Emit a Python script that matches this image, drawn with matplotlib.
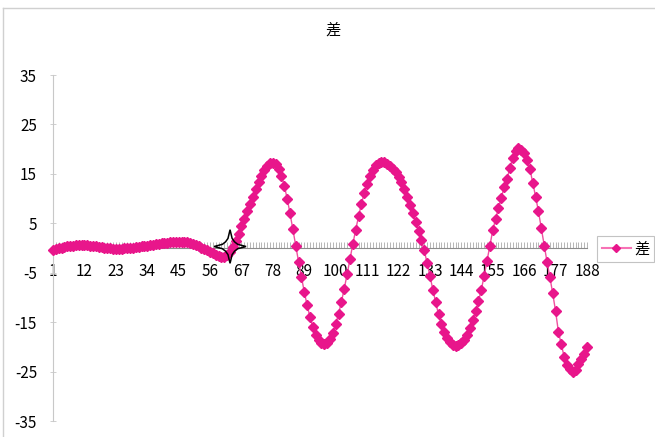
import matplotlib
matplotlib.use('Agg')
import matplotlib.pyplot as plt
from matplotlib.path import Path
from matplotlib.patches import PathPatch
from matplotlib.lines import Line2D

plt.rcParams['font.family'] = ['Noto Sans CJK JP', 'DejaVu Sans']

# difference series, one value per category 1..188
diff = [
    -0.4, -0.2, 0.0, 0.1, 0.3, 0.4, 0.5, 0.5, 0.6, 0.6,
    0.6, 0.6, 0.6, 0.5, 0.5, 0.4, 0.3, 0.2, 0.1, 0.0,
    -0.1, -0.2, -0.2, -0.2, -0.2, -0.1, -0.1, 0.0, 0.1, 0.2,
    0.3, 0.4, 0.5, 0.5, 0.6, 0.7, 0.8, 0.9, 1.0, 1.0,
    1.1, 1.2, 1.2, 1.3, 1.3, 1.3, 1.2, 1.2, 1.1, 0.9,
    0.7, 0.4, 0.1, -0.2, -0.5, -0.8, -1.1, -1.4, -1.6, -1.8,
    -1.8, -1.5, -0.8, 0.2, 1.5, 2.9, 4.4, 5.9, 7.4, 8.9,
    10.4, 11.9, 13.3, 14.6, 15.7, 16.6, 17.1, 17.2, 16.9, 16.0,
    14.6, 12.6, 10.0, 7.0, 3.8, 0.5, -2.8, -5.9, -8.9, -11.6,
    -14.0, -16.0, -17.6, -18.7, -19.3, -19.5, -19.2, -18.4, -17.1, -15.4,
    -13.3, -10.9, -8.2, -5.3, -2.2, 0.8, 3.7, 6.4, 8.9, 11.1,
    13.0, 14.6, 15.8, 16.7, 17.2, 17.4, 17.3, 17.0, 16.6, 16.0,
    15.3, 14.4, 13.3, 11.9, 10.4, 8.8, 7.1, 5.3, 3.5, 1.6,
    -0.5, -3.0, -5.7, -8.4, -11.0, -13.4, -15.4, -17.0, -18.3, -19.1,
    -19.6, -19.8, -19.7, -19.3, -18.6, -17.6, -16.2, -14.6, -12.8, -10.8,
    -8.4, -5.6, -2.6, 0.5, 3.6, 5.9, 8.1, 10.2, 12.3, 14.0,
    16.2, 18.3, 19.7, 20.2, 19.9, 19.2, 17.8, 16.0, 13.2, 10.4,
    7.4, 4.0, 0.5, -2.8, -5.9, -9.2, -12.8, -17.0, -19.5, -22.0,
    -23.6, -24.5, -25.0, -24.6, -23.5, -22.5, -21.5, -20.0,
]
categories = list(range(1, len(diff) + 1))
x_labels = list(range(1, 189, 11))
y_ticks = [-35, -25, -15, -5, 5, 15, 25, 35]

pink = '#E8168B'
line_pink = '#F0509F'

fig = plt.figure(figsize=(6.55, 4.37), dpi=100)
ax = fig.add_axes([53 / 655, 1 - 421 / 437, 534 / 655, 346 / 437])

ax.plot(categories, diff, color=line_pink, lw=1.0, marker='D', ms=4.8,
        mfc=pink, mec=pink, zorder=3, clip_on=False)

ax.set_xlim(1, 188)
ax.set_ylim(-35, 35)

# category axis crosses at zero
for s in ['top', 'right']:
    ax.spines[s].set_visible(False)
ax.spines['bottom'].set_position(('data', 0))
ax.spines['bottom'].set_color('#8c8c8c')
ax.spines['bottom'].set_linewidth(0.8)
ax.spines['left'].set_color('#c8c8c8')
ax.spines['left'].set_linewidth(0.8)

ax.set_xticks(x_labels)
ax.set_xticklabels([str(v) for v in x_labels])
ax.set_xticks(categories, minor=True)
ax.tick_params(axis='x', which='both', direction='in', length=4,
               width=0.5, color='#9a9a9a', pad=11, labelsize=11)

ax.set_yticks(y_ticks)
ax.set_yticklabels([str(v) for v in y_ticks])
ax.tick_params(axis='y', direction='inout', length=5, width=0.6,
               color='#c8c8c8', pad=9, labelsize=11)

# four-pointed star shape on the axis
star = [(0, 1), (0.13, 0.48), (0.28, 0.28), (0.48, 0.13),
        (1, 0), (0.48, -0.13), (0.28, -0.28), (0.13, -0.48),
        (0, -1), (-0.13, -0.48), (-0.28, -0.28), (-0.48, -0.13),
        (-1, 0), (-0.48, 0.13), (-0.28, 0.28), (-0.13, 0.48), (0, 1)]
sx, sy = 5.6, 3.4
cx, cy = 63.0, 0.3
verts = [(cx + px * sx, cy + py * sy) for px, py in star]
codes = [Path.MOVETO] + [Path.LINETO] * (len(verts) - 2) + [Path.CLOSEPOLY]
ax.add_patch(PathPatch(Path(verts, codes), facecolor='none', edgecolor='black',
                       lw=1.1, zorder=4, joinstyle='miter'))

fig.text(333 / 655, 1 - 30 / 437, '差', ha='center', va='center', fontsize=11)

handle = Line2D([], [], color='#F772B5', lw=1.5, marker='D', ms=4.5,
                mfc=pink, mec=pink)
leg = fig.legend([handle], ['差'], loc='center left',
                 bbox_to_anchor=(597 / 655, 1 - 249 / 437), fontsize=11,
                 frameon=True, fancybox=False, handlelength=1.9,
                 handletextpad=0.25, borderpad=0.3, borderaxespad=0)
leg.get_frame().set_edgecolor('#b4b4b4')
leg.get_frame().set_linewidth(0.8)

# chart area border
fig.add_artist(Line2D([3 / 655, 1], [1 - 8 / 437, 1 - 8 / 437],
                      transform=fig.transFigure, color='#d0d0d0', lw=1))
fig.add_artist(Line2D([3 / 655, 3 / 655], [0, 1 - 8 / 437],
                      transform=fig.transFigure, color='#d0d0d0', lw=1))

fig.savefig('out.png', dpi=100)
